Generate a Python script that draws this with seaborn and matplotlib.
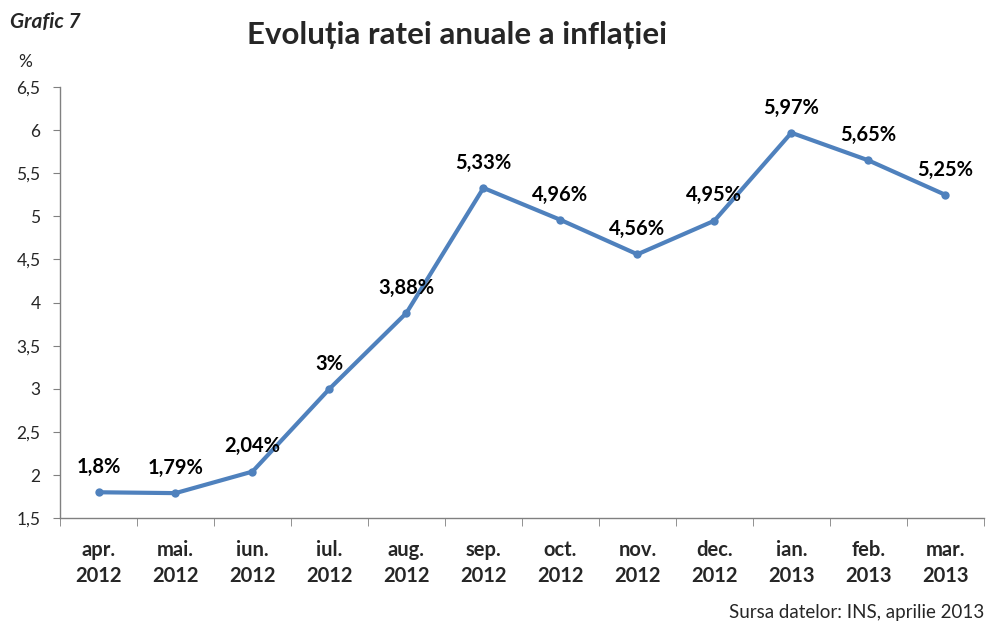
import numpy as np
import pandas as pd
import matplotlib.pyplot as plt
import seaborn as sns

# ========== date ==========
luni = ['apr.\n2012', 'mai.\n2012', 'iun.\n2012', 'iul.\n2012', 'aug.\n2012', 'sep.\n2012',
        'oct.\n2012', 'nov.\n2012', 'dec.\n2012', 'ian.\n2013', 'feb.\n2013', 'mar.\n2013']
inflatie = [1.8, 1.79, 2.04, 3.0, 3.88, 5.33, 4.96, 4.56, 4.95, 5.97, 5.65, 5.25]
etichete = ['1,8%', '1,79%', '2,04%', '3%', '3,88%', '5,33%', '4,96%', '4,56%', '4,95%', '5,97%', '5,65%', '5,25%']
y_ticks = [1.5, 2, 2.5, 3, 3.5, 4, 4.5, 5, 5.5, 6, 6.5]
y_labels = ['1,5', '2', '2,5', '3', '3,5', '4', '4,5', '5', '5,5', '6', '6,5']

df = pd.DataFrame({'idx': np.arange(len(luni)), 'rata': inflatie})

sns.set_style('white')
plt.rcParams['font.family'] = ['Lato', 'DejaVu Sans']

fig = plt.figure(figsize=(9.87, 6.22), dpi=100)
ax = fig.add_axes([0.0608, 0.167, 0.936, 0.693])

culoare = '#4F81BD'
sns.lineplot(data=df, x='idx', y='rata', ax=ax, color=culoare, linewidth=3,
             marker='o', markersize=6, markeredgewidth=0, markerfacecolor=culoare)

for i, (v, t) in enumerate(zip(inflatie, etichete)):
    ax.annotate(t, (i, v), xytext=(0, 11), textcoords='offset points',
                ha='center', va='bottom', fontsize=14.5, fontweight='bold', color='black')

ax.set_xlim(-0.5, len(luni) - 0.5)
ax.set_ylim(1.5, 6.5)
ax.set_yticks(y_ticks)
ax.set_yticklabels(y_labels, fontsize=12.5)
ax.set_xticks(np.arange(len(luni)))
ax.set_xticklabels(luni, fontsize=14.5, fontweight='bold', linespacing=1.35)
ax.set_xticks(np.arange(len(luni) + 1) - 0.5, minor=True)
ax.tick_params(axis='x', which='major', length=0, pad=16)
ax.tick_params(axis='x', which='minor', length=6, color='#808080', direction='out', bottom=True)
ax.tick_params(axis='y', length=5, color='#808080', direction='out', left=True, pad=9)
ax.set_xlabel('')
ax.set_ylabel('')
ax.grid(False)

for s in ['top', 'right']:
    ax.spines[s].set_visible(False)
for s in ['left', 'bottom']:
    ax.spines[s].set_color('#808080')
    ax.spines[s].set_linewidth(1)

fig.text(0.463, 0.944, 'Evoluția ratei anuale a inflației', ha='center', va='center',
         fontsize=22.5, fontweight='bold')
fig.text(0.01, 0.965, 'Grafic 7', ha='left', va='center', fontsize=15,
         fontweight='bold', style='italic')
fig.text(0.018, 0.9, '%', ha='left', va='center', fontsize=12.5)
fig.text(0.997, 0.016, 'Sursa datelor: INS, aprilie 2013', ha='right', va='center', fontsize=13.5)

fig.savefig('out.png', dpi=100)
